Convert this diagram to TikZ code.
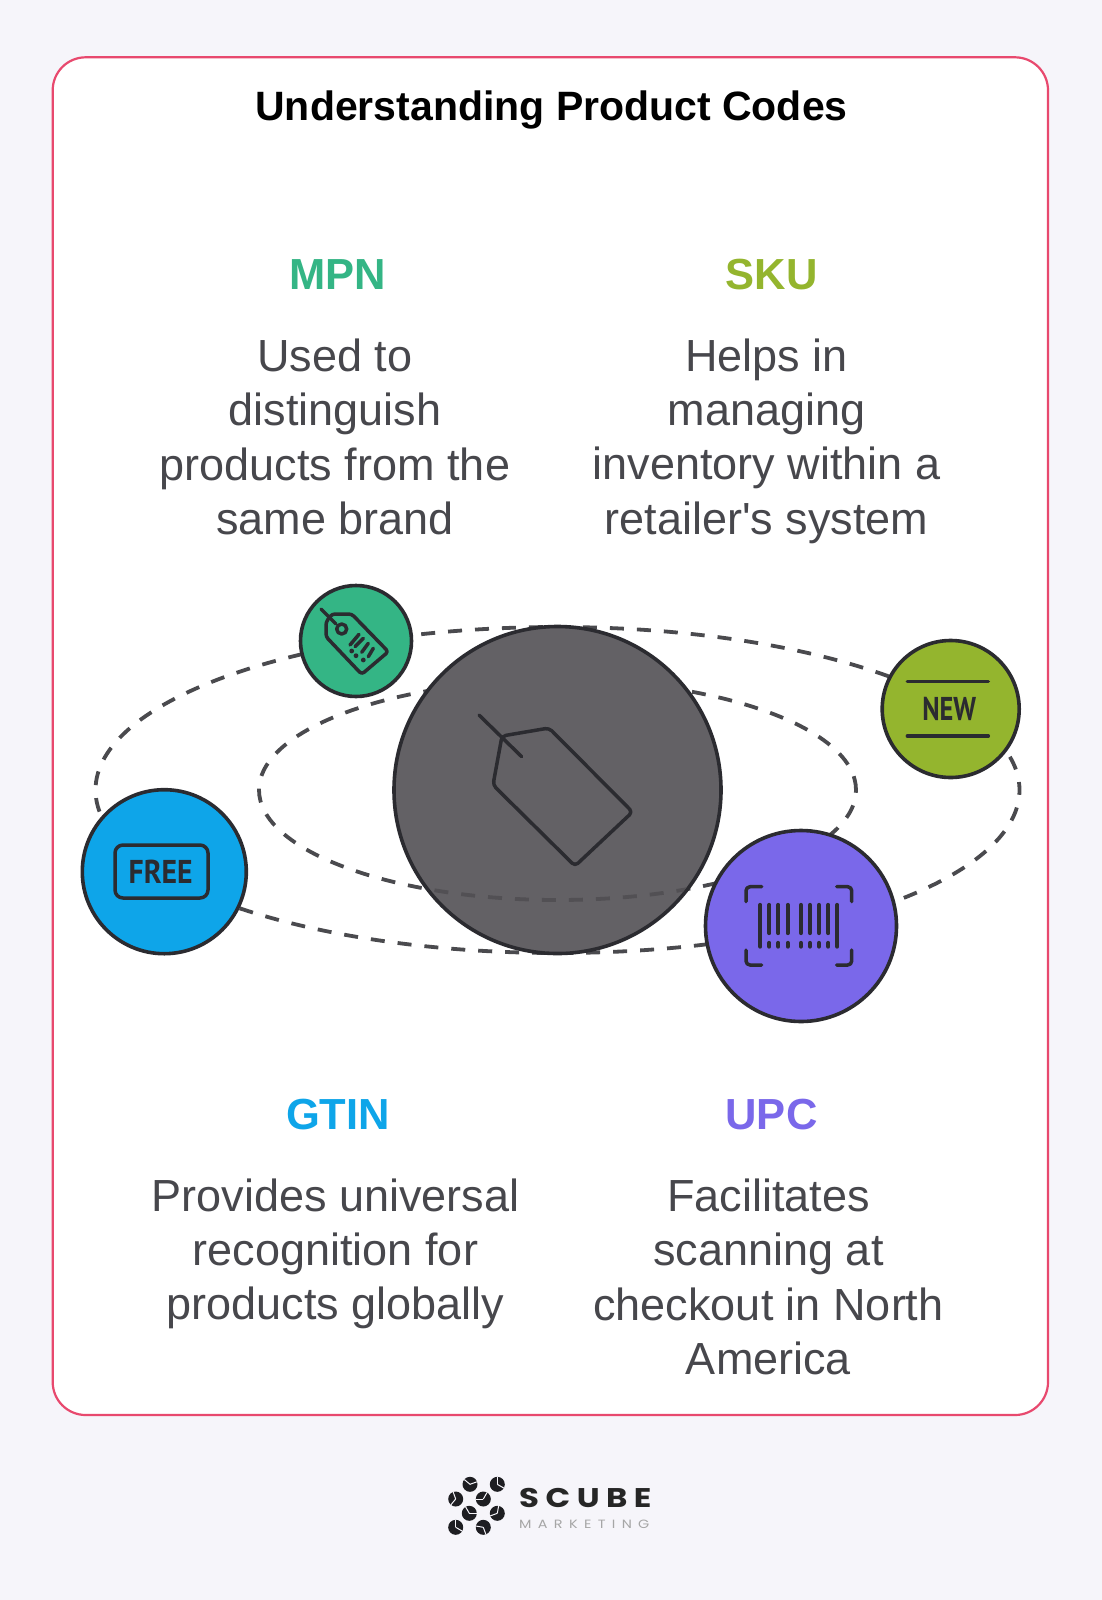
\documentclass[tikz,border=0pt]{standalone}
\usepackage{fontspec}
\usepackage{graphicx}
\setmainfont{Liberation Sans}
\newfontfamily\iconfont{PT Sans}
\newfontfamily\logofont[LetterSpace=20]{Poppins}
\newfontfamily\logosubfont[LetterSpace=44]{Poppins}
\definecolor{pagebg}{HTML}{F6F5FA}
\definecolor{cardedge}{HTML}{E8496E}
\definecolor{ink}{HTML}{2B2B30}
\definecolor{bodyink}{HTML}{47474C}
\definecolor{dashink}{HTML}{4A4A4E}
\definecolor{dashover}{HTML}{525054}
\definecolor{coregrey}{HTML}{636165}
\definecolor{mpngreen}{HTML}{34B585}
\definecolor{skulime}{HTML}{94B52E}
\definecolor{gtinblue}{HTML}{0EA5E9}
\definecolor{upcviolet}{HTML}{7A68EA}
\tikzset{
  disc/.style={circle,draw=ink,line width=3.6pt,inner sep=0pt,outer sep=0pt},
  orbit/.style={dashink,line width=3.8pt,dash pattern=on 14pt off 13pt},
  orbitfar/.style={orbit,dash phase=6pt},
  orbitover/.style={dashover,line width=3.8pt,dash pattern=on 14pt off 13pt},
  iconline/.style={draw=ink,line width=3.5pt,line cap=round,line join=round},
  title/.style={font=\fontsize{41}{48}\selectfont\bfseries,text=black},
  codelabel/.style={font=\fontsize{43.5}{52}\selectfont\bfseries},
  bodytext/.style={font=\fontsize{45}{54.3}\selectfont,text=bodyink,align=center},
  logodot/.style={circle,fill=ink!70!black,inner sep=0pt,minimum size=15pt},
  logocut/.style={draw=pagebg,line width=1pt}
}
\begin{document}
\begin{tikzpicture}[x=1pt,y=-1pt]
\useasboundingbox (0,0) rectangle (1102,1600);
\fill[pagebg] (0,0) rectangle (1102,1600);
\draw[cardedge,line width=2.2pt,fill=white,rounded corners=33pt] (52.7,57.3) rectangle (1048,1415);

\node[title] (ttl) at (551.5,110) {Understanding Product Codes};

\node[codelabel,text=mpngreen] (mpn) at (338,275) {MPN};
\node[codelabel,text=skulime] (sku) at (771.5,275) {SKU};
\node[codelabel,text=gtinblue] (gtin) at (338,1115) {GTIN};
\node[codelabel,text=upcviolet] (upc) at (771.5,1115) {UPC};

\node[bodytext] (mpnt) at (335,437) {Used to\\distinguish\\products from the\\same brand};
\node[bodytext] (skut) at (766.5,441) {Helps in\\managing\\inventory within a\\retailer\textquotesingle s system};
\node[bodytext] (gtint) at (335.5,1254) {Provides universal\\recognition for\\products globally};
\node[bodytext] (upct) at (768.5,1277) {Facilitates\\scanning at\\checkout in North\\America};

% orbits
\coordinate (orbitc) at (557.5,790);
\draw[orbitfar] (orbitc) ellipse [x radius=462pt,y radius=163pt];
\draw[orbit] (orbitc) ellipse [x radius=298.5pt,y radius=110pt];

% central disc
\node[disc,fill=coregrey,minimum size=327pt] (core) at (orbitc) {};
\begin{scope}
  \clip (394,790) rectangle (721,960);
  \clip (orbitc) circle [radius=161.7pt];
  \draw[orbitover,dash phase=6pt] (orbitc) ellipse [x radius=462pt,y radius=163pt];
  \draw[orbitover] (orbitc) ellipse [x radius=298.5pt,y radius=110pt];
\end{scope}
\draw[iconline,rounded corners=4pt] (493,785) -- (502,736) -- (549,728) -- (632.5,812) -- (575,866) -- cycle;
\draw[iconline] (479,715) -- (521.7,756.7);

% MPN disc
\node[disc,fill=mpngreen,minimum size=111pt] (mpnd) at (356,641) {};
\draw[iconline,rounded corners=3pt] (326,636.7) -- (326,622) -- (332,614) -- (351.7,614) -- (388.3,651.7) -- (361.7,674.3) -- cycle;
\draw[iconline] (321,609) -- (336,624);
\draw[iconline] (341.7,629) circle [radius=5pt];
\foreach \ax/\ay/\bx/\by in {359/634.3/350/645, 363.3/638.3/355/646.7, 368.3/643.3/361.7/652.3, 373.3/648.3/368.3/656.7}
  \draw[iconline] (\ax,\ay) -- (\bx,\by);
\foreach \dx/\dy in {351.7/651, 356/655.7, 363.3/660}
  \fill[ink] (\dx,\dy) circle [radius=2.4pt];

% SKU disc
\node[disc,fill=skulime,minimum size=137pt] (skud) at (950.7,709) {};
\draw[iconline] (907.3,681.7) -- (988.3,681.7);
\draw[iconline] (907.3,736) -- (988.3,736);
\node[text=ink,inner sep=0pt] (newt) at (949.3,709) {\scalebox{0.8}[1]{\iconfont\bfseries\fontsize{33}{33}\selectfont NEW}};

% GTIN disc
\node[disc,fill=gtinblue,minimum size=164pt] (gtind) at (164.3,871.7) {};
\draw[iconline,rounded corners=8pt] (115,845) rectangle (208,898);
\node[text=ink,inner sep=0pt] (freet) at (160.7,871.7) {\scalebox{0.9}[1]{\iconfont\bfseries\fontsize{33}{33}\selectfont FREE}};

% UPC disc
\node[disc,fill=upcviolet,minimum size=191pt] (upcd) at (801,926) {};
\draw[iconline,rounded corners=4pt] (746,901.7) -- (746,886.7) -- (761.7,886.7);
\draw[iconline,rounded corners=4pt] (836.7,886.7) -- (851.7,886.7) -- (851.7,901.7);
\draw[iconline,rounded corners=4pt] (746,950) -- (746,965) -- (761.7,965);
\draw[iconline,rounded corners=4pt] (836.7,965) -- (851.7,965) -- (851.7,950);
\foreach \bx in {760.3,837.3}
  \draw[iconline,line width=4.3pt] (\bx,905) -- (\bx,946.5);
\foreach \bx in {769.3,778.3,787.7,801,810,819,828.3}{
  \draw[iconline,line width=4.3pt] (\bx,905) -- (\bx,933);
  \draw[iconline,line width=4.3pt] (\bx,943) -- (\bx,946.5);
}

% logo
\foreach \lx/\ly/\ang in {470/1484.3/20, 497.3/1484.3/-30, 455.7/1499/110, 483.3/1499/60, 469.3/1513.3/0, 497.3/1513.3/80, 455.7/1527.3/-30, 483.3/1527.3/170}{
  \node[logodot] at (\lx,\ly) {};
  \draw[logocut] (\lx,\ly) -- ++(\ang:7.5pt);
  \draw[logocut] (\lx,\ly) -- ++(\ang+120:7.5pt);
}
\node[anchor=west,inner sep=0pt,text=black!85] (scube) at (519,1497.5) {\scalebox{1.2}[1]{\logofont\bfseries\fontsize{27}{27}\selectfont SCUBE}};
\node[anchor=west,inner sep=0pt,text=black!35] (mktg) at (519,1524) {\scalebox{1.2}[1]{\logosubfont\fontsize{12}{12}\selectfont MARKETING}};
\end{tikzpicture}
\end{document}
